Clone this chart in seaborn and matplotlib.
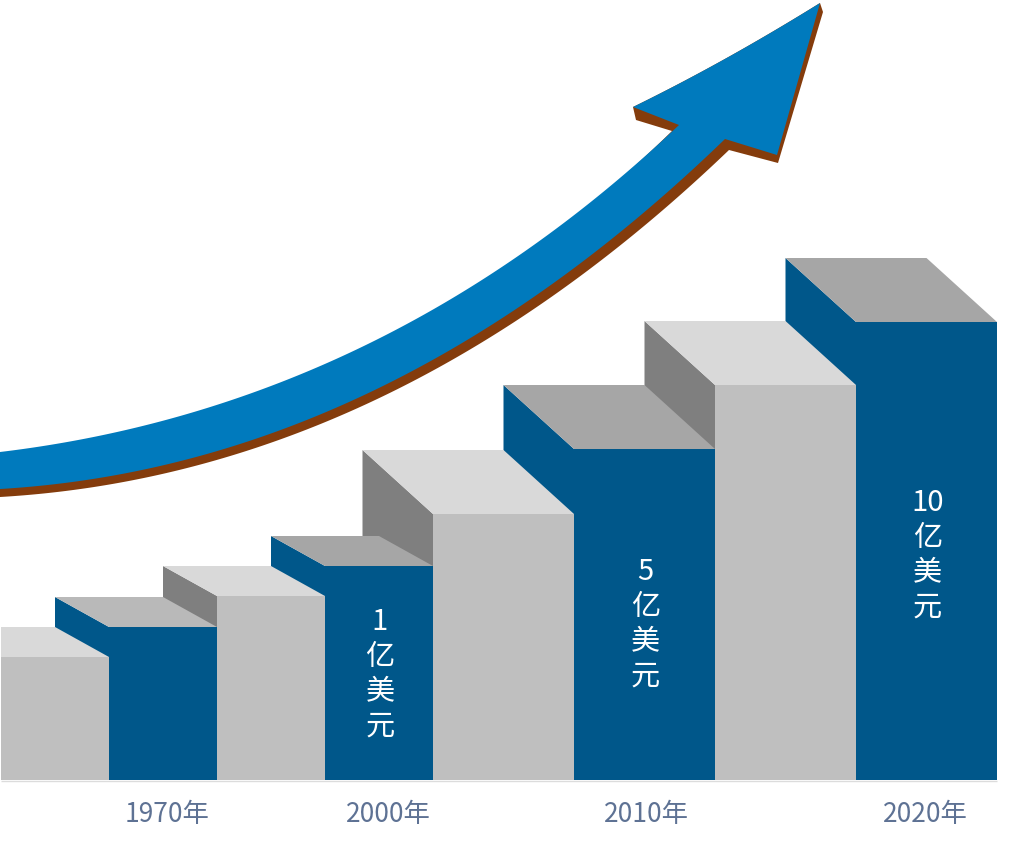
import numpy as np
import pandas as pd
import matplotlib.pyplot as plt
from matplotlib.patches import Polygon
import seaborn as sns

# steps, left to right
steps = ["s1", "s2", "s3", "s4", "s5", "s6", "s7", "s8"]
heights = [123, 153, 184, 214, 266, 331, 395, 458]
year_labels = ["1970年", "2000年", "2010年", "2020年"]
year_centres = [167, 388, 646, 925]
value_labels = ["1", "5", "10"]
value_steps = [3, 5, 7]
value_heights = [106, 156, 225]

GREY = "#bfbfbf"
BLUE = "#00578a"
front_colors = [GREY, BLUE, GREY, BLUE, GREY, BLUE, GREY, BLUE]
top_colors = ["#d9d9d9", "#b9b9b9", "#d9d9d9", "#a6a6a6", "#d9d9d9", "#a6a6a6", "#d9d9d9", "#a6a6a6"]
side_colors = [GREY, BLUE, "#7f7f7f", BLUE, "#7f7f7f", BLUE, "#7f7f7f", BLUE]
widths = [108, 108, 108, 108, 141, 141, 141, 141]
depth_y = [30, 30, 30, 30, 64, 64, 64, 64]

sns.set_theme(style="white")
plt.rcParams["font.family"] = ["Noto Sans CJK SC", "DejaVu Sans"]

fig = plt.figure(figsize=(10.26, 8.49), dpi=100)
ax = fig.add_axes([1 / 1026, 0, 1025 / 1026, 1])

df = pd.DataFrame({"step": steps, "height": heights})
sns.barplot(data=df, x="step", y="height", hue="step", palette=front_colors, saturation=1,
            legend=False, width=1, linewidth=0, ax=ax)

ax.set_xlim(1, 1026)
ax.set_ylim(-69, 780)

# make the steps wider towards the right and add the 3d faces
lefts = 1 + np.concatenate([[0], np.cumsum(widths)[:-1]])
centres = lefts + np.array(widths) / 2
for i, bar in enumerate(ax.patches):
    left, w, h, dy = lefts[i], widths[i], heights[i], depth_y[i]
    dx = w / 2
    bar.set_x(left)
    bar.set_width(w)
    bar.set_zorder(20 - i)
    ax.add_patch(Polygon([(left - dx, h + dy), (left, h), (left, 0), (left - dx, 0)],
                         facecolor=side_colors[i], edgecolor="none", zorder=20 - i))
    ax.add_patch(Polygon([(left - dx, h + dy), (left + w - dx, h + dy), (left + w, h), (left, h)],
                         facecolor=top_colors[i], edgecolor="none", zorder=20 - i))

# faint base line under the steps
ax.hlines(-0.5, 1, 997, color="#dcdcdc", linewidth=1, zorder=25)

for c, lab in zip(year_centres, year_labels):
    ax.text(c, -35, lab, color="#5e7294", fontsize=19, ha="center", va="center", zorder=40)

for s, lab, y in zip(value_steps, value_labels, value_heights):
    ax.text(centres[s] + 1, y, "\n".join([lab, "亿", "美", "元"]), color="white",
            fontsize=21, ha="center", va="center", linespacing=1.21, zorder=40)

ax.tick_params(left=False, bottom=False, labelleft=False, labelbottom=False)
sns.despine(ax=ax, left=True, bottom=True)
ax.set_xlabel("")
ax.set_ylabel("")


# the growth arrow, outline read in picture pixels
def curve(p0, p1, p2):
    t = np.linspace(0, 1, 200)[:, None]
    return (1 - t) ** 2 * np.array(p0) + 2 * t * (1 - t) * np.array(p1) + t ** 2 * np.array(p2)


def arrow_outline(parts):
    pts = np.vstack(parts)
    return np.column_stack([pts[:, 0], 780 - pts[:, 1]])


shadow = arrow_outline([curve((0, 460), (383, 414), (672, 131)), [(636, 120)],
                        curve((633, 107), (725, 62), (820, 3)), [(823, 12), (778, 163)],
                        curve((729, 150), (391, 474), (0, 497))])
arrow = arrow_outline([curve((0, 452), (383, 406), (679, 125)),
                       curve((633, 107), (725, 62), (820, 3)), [(777, 155)],
                       curve((725, 139), (387, 466), (0, 489))])
ax.add_patch(Polygon(shadow, facecolor="#843c0c", edgecolor="none", zorder=30, clip_on=False))
ax.add_patch(Polygon(arrow, facecolor="#007abd", edgecolor="none", zorder=31, clip_on=False))

fig.savefig("out.png", dpi=100, facecolor="white")
